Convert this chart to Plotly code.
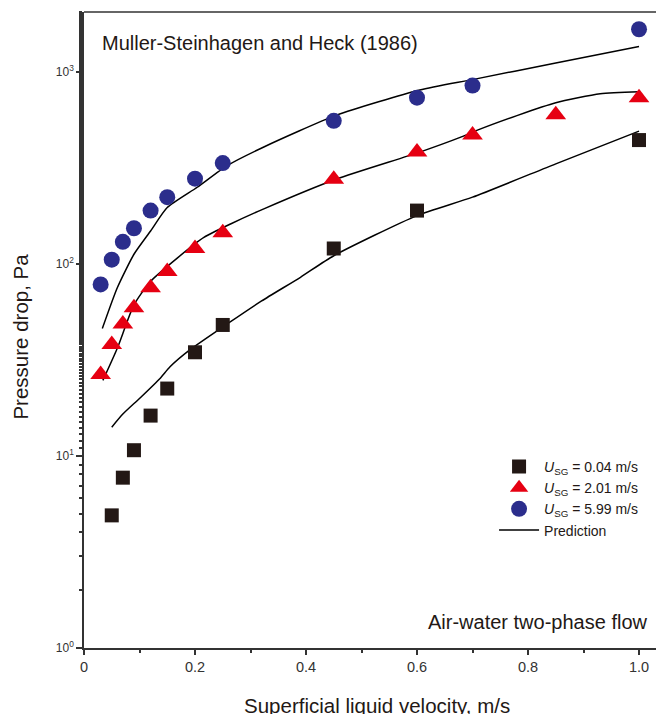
import plotly.graph_objects as go

# ---- data ----
sq_x = [0.05, 0.07, 0.09, 0.12, 0.15, 0.2, 0.25, 0.45, 0.6, 1.0]
sq_y = [4.9, 7.7, 10.7, 16.2, 22.4, 34.6, 48, 120, 189, 440]

tri_x = [0.03, 0.05, 0.07, 0.09, 0.12, 0.15, 0.2, 0.25, 0.45, 0.6, 0.7, 0.85, 1.0]
tri_y = [26.5, 38, 48.5, 59, 75, 91, 120, 145, 275, 381, 468, 596, 731]

cir_x = [0.03, 0.05, 0.07, 0.09, 0.12, 0.15, 0.2, 0.25, 0.45, 0.6, 0.7, 1.0]
cir_y = [78, 105, 130, 153, 189, 222, 277, 334, 554, 731, 845, 1660]

pred_blk_x = [0.05, 0.07, 0.10, 0.137, 0.155, 0.19, 0.26, 0.32, 0.39, 0.45, 0.6, 0.7, 0.85, 1.0]
pred_blk_y = [14.1, 16.5, 19.9, 25.3, 29.1, 35.5, 49, 64, 85, 110, 178, 222, 331, 490]

pred_red_x = [0.034, 0.06, 0.09, 0.12, 0.168, 0.216, 0.264, 0.324, 0.455, 0.605, 0.68, 0.71, 0.78, 0.85, 0.93, 1.0]
pred_red_y = [24.7, 36.3, 61, 81, 107, 137, 161, 193, 276, 381, 457, 497, 590, 688, 767, 785]

pred_blu_x = [0.033, 0.06, 0.09, 0.12, 0.15, 0.204, 0.258, 0.324, 0.455, 0.605, 0.7, 0.85, 1.0]
pred_blu_y = [46, 75, 112, 148, 196, 250, 324, 405, 593, 801, 908, 1109, 1352]

names = ["<i>U</i><sub>SG</sub> = 0.04 m/s",
         "<i>U</i><sub>SG</sub> = 2.01 m/s",
         "<i>U</i><sub>SG</sub> = 5.99 m/s",
         "Prediction"]

x_tickvals = [0, 0.2, 0.4, 0.6, 0.8, 1.0]
x_ticktext = ["0", "0.2", "0.4", "0.6", "0.8", "1.0"]
y_tickvals = [1, 10, 100, 1000]
y_ticktext = ["10<sup>0</sup>", "10<sup>1</sup>", "10<sup>2</sup>", "10<sup>3</sup>"]

FONT = "Arial, Liberation Sans, sans-serif"
BLACK = "#231815"
RED = "#e60012"
BLUE = "#2b2d8c"

fig = go.Figure()

# prediction lines
for px_, py_ in [(pred_blk_x, pred_blk_y), (pred_red_x, pred_red_y), (pred_blu_x, pred_blu_y)]:
    fig.add_trace(go.Scatter(x=px_, y=py_, mode="lines",
                             line=dict(color="black", width=1.5, shape="spline", smoothing=0.6),
                             name=names[3], showlegend=False))

fig.add_trace(go.Scatter(x=sq_x, y=sq_y, mode="markers", name=names[0],
                         marker=dict(symbol="square", size=14, color=BLACK)))
fig.add_trace(go.Scatter(x=tri_x, y=tri_y, mode="markers", name=names[1],
                         marker=dict(symbol="triangle-up", size=18, color=RED)))
fig.add_trace(go.Scatter(x=cir_x, y=cir_y, mode="markers", name=names[2],
                         marker=dict(symbol="circle", size=16, color=BLUE)))
# legend entry for prediction
fig.add_trace(go.Scatter(x=[None], y=[None], mode="lines", name=names[3],
                         line=dict(color="black", width=1.5)))

fig.update_layout(
    width=656, height=706,
    margin=dict(l=76, r=0, t=4, b=66),
    plot_bgcolor="white", paper_bgcolor="white",
    font=dict(family=FONT, color="#231815"),
    showlegend=True,
    legend=dict(x=0.707, y=0.31, xanchor="left", yanchor="top",
                bgcolor="rgba(0,0,0,0)", font=dict(size=14, family=FONT),
                tracegroupgap=0, itemwidth=40),
    xaxis=dict(range=[0, 1.045], tickvals=x_tickvals, ticktext=x_ticktext,
               ticks="outside", ticklen=5, tickwidth=1.5, tickcolor="#333",
               showline=True, linecolor="#333", linewidth=1.5,
               showgrid=False, zeroline=False,
               tickfont=dict(size=14.5, color="#333"),
               minor=dict(tickvals=[0.1, 0.3, 0.5, 0.7, 0.9], ticks="outside",
                          ticklen=3, tickcolor="#333", showgrid=False)),
    yaxis=dict(type="log", range=[0, 3.31], tickvals=y_tickvals, ticktext=y_ticktext,
               ticks="outside", ticklen=6, tickwidth=1.5, tickcolor="#333",
               showline=True, linecolor="#333", linewidth=1.5,
               showgrid=False, zeroline=False,
               tickfont=dict(size=12, color="#333"),
               minor=dict(ticks="outside", ticklen=3, tickcolor="#333", showgrid=False)),
)

# top frame line
fig.add_shape(type="line", xref="paper", yref="paper", x0=0, x1=1, y0=1, y1=1,
              line=dict(color="#333", width=1.5))

fig.add_annotation(text="Muller-Steinhagen and Heck (1986)", xref="paper", yref="paper",
                   x=0.027, y=0.951, xanchor="left", yanchor="middle", showarrow=False,
                   font=dict(size=20, family=FONT, color="#231815"))
fig.add_annotation(text="Air-water two-phase flow", xref="paper", yref="paper",
                   x=0.976, y=0.041, xanchor="right", yanchor="middle", showarrow=False,
                   font=dict(size=20, family=FONT, color="#231815"))
fig.add_annotation(text="Pressure drop, Pa", xref="paper", yref="paper",
                   x=-0.110, y=0.49, xanchor="center", yanchor="middle", textangle=-90,
                   showarrow=False, font=dict(size=20.5, family=FONT, color="#231815"))
fig.add_annotation(text="Superficial liquid velocity, m/s", xref="paper", yref="paper",
                   x=0.505, y=-0.091, xanchor="center", yanchor="middle",
                   showarrow=False, font=dict(size=20.5, family=FONT, color="#231815"))

fig.write_html("out.html")
